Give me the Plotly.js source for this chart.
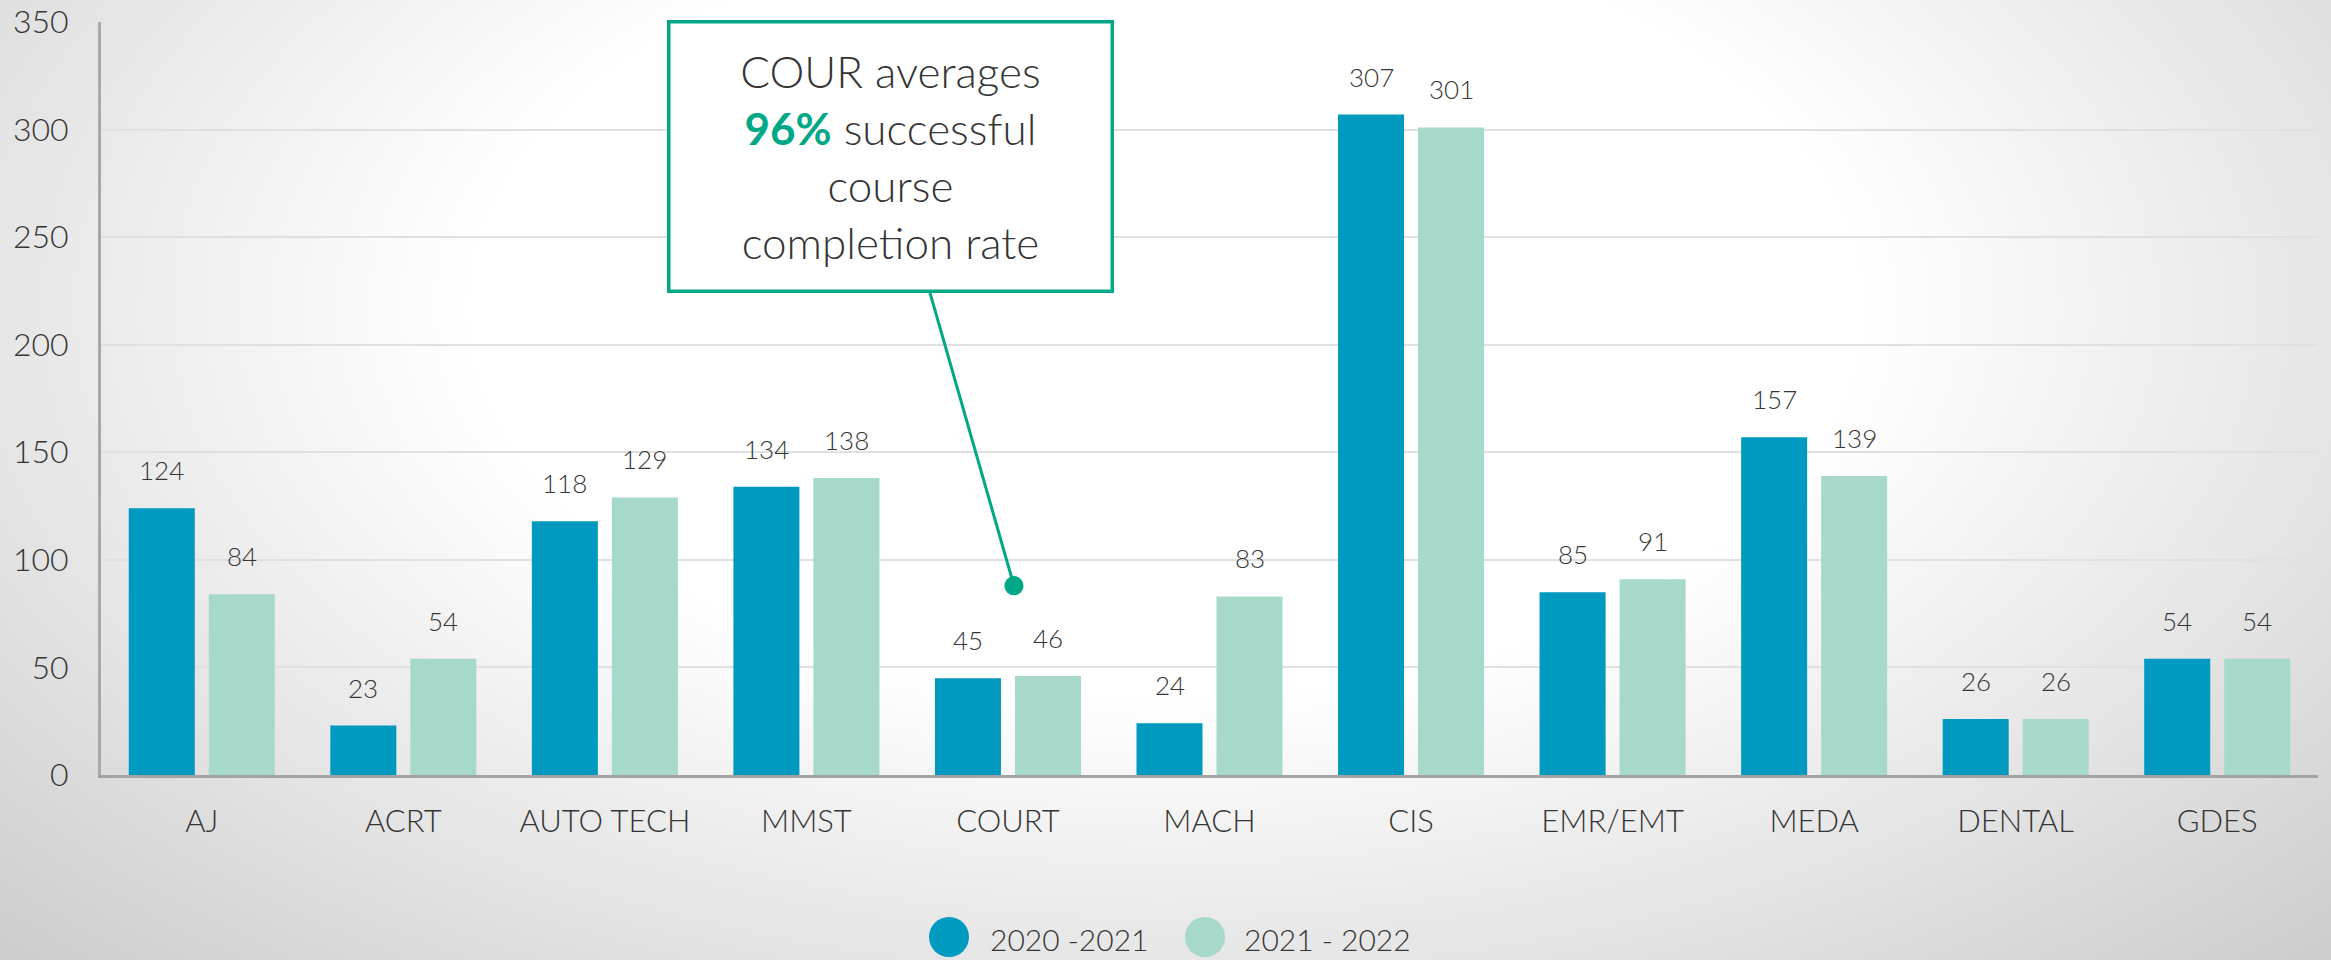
<!DOCTYPE html>
<html>
<head>
<meta charset="utf-8">
<script src="https://cdn.plot.ly/plotly-3.0.1.min.js"></script>
<style>
  html, body { margin: 0; padding: 0; }
  #chart {
    width: 2331px; height: 960px;
    background: radial-gradient(ellipse farthest-corner at 50% 32%, #ffffff 0%, #ffffff 42%, #cccccc 100%);
  }
</style>
</head>
<body>
<div id="chart"></div>
<script>
const categories = ['AJ', 'ACRT', 'AUTO TECH', 'MMST', 'COURT', 'MACH', 'CIS', 'EMR/EMT', 'MEDA', 'DENTAL', 'GDES'];
const series2020 = [124, 23, 118, 134, 45, 24, 307, 85, 157, 26, 54];
const series2021 = [84, 54, 129, 138, 46, 83, 301, 91, 139, 26, 54];
const seriesNames = ['2020 -2021', '2021 - 2022'];
const yTicks = [0, 50, 100, 150, 200, 250, 300, 350];
const calloutCategory = 'COURT';
const calloutValue = 88;

const FONT = 'Lato, "Open Sans", sans-serif';
const TXT = '#353535';
const BLUE = '#0099BF';
const TEAL = '#A6D8CC';
const GREEN = '#00A887';

const allSeries = [series2020, series2021];
const seriesColors = [BLUE, TEAL];

const traces = allSeries.map((vals, i) => ({
  type: 'bar', name: seriesNames[i], x: categories, y: vals,
  marker: { color: seriesColors[i] },
  showlegend: false, hoverinfo: 'skip'
}));

const plotL = 101, plotR = 2318, plotT = 22, plotB = 775;
const pw = plotR - plotL, ph = plotB - plotT;
const px = v => (v - plotL) / pw;
const py = v => (plotB - v) / ph;

const shapes = [];
const annotations = [];

// value labels above bars (offset to each bar of the group)
const groupOffset = [-40, 40];
allSeries.forEach((vals, i) => {
  vals.forEach((v, j) => {
    annotations.push({
      x: categories[j], y: v, xref: 'x', yref: 'y',
      xshift: groupOffset[i], yshift: 38,
      xanchor: 'center', yanchor: 'middle', showarrow: false,
      text: String(v),
      font: { family: FONT, size: 26, color: TXT, weight: 300 }
    });
  });
});

// custom legend (large circles), placed below the plot
const legendItems = [{cx: 949, tx: 988}, {cx: 1205, tx: 1242}];
const legendCy = 937, legendR = 20;
legendItems.forEach((it, i) => {
  shapes.push({
    type: 'circle', xref: 'paper', yref: 'paper',
    x0: px(it.cx - legendR), x1: px(it.cx + legendR),
    y0: py(legendCy + legendR), y1: py(legendCy - legendR),
    fillcolor: seriesColors[i], line: { width: 0 }
  });
  annotations.push({
    xref: 'paper', yref: 'paper', x: px(it.tx), y: py(legendCy + 2),
    xanchor: 'left', yanchor: 'middle', showarrow: false,
    text: seriesNames[i],
    font: { family: FONT, size: 30, color: TXT, weight: 300 }
  });
});

annotations.push({
  x: calloutCategory, y: calloutValue, xref: 'x', yref: 'y', xshift: 6,
  ax: -123, ay: -429, axref: 'pixel', ayref: 'pixel',
  showarrow: true, arrowhead: 6, arrowsize: 1.6, arrowwidth: 3, arrowcolor: GREEN,
  standoff: 0, startstandoff: 0,
  text: 'COUR averages<br><span style="color:' + GREEN + '"><b>96%</b></span> successful<br>course<br>completion rate',
  font: { family: FONT, size: 44, color: TXT, weight: 300 },
  align: 'center', valign: 'middle',
  width: 436, height: 262, borderpad: 2,
  bgcolor: '#ffffff', bordercolor: GREEN, borderwidth: 3.5
});

const layout = {
  width: 2331, height: 960,
  paper_bgcolor: 'rgba(0,0,0,0)', plot_bgcolor: 'rgba(0,0,0,0)',
  margin: { l: plotL, r: 2331 - plotR, t: plotT, b: 960 - plotB, pad: 0 },
  barmode: 'group', bargap: 0.206, bargroupgap: 0.175,
  showlegend: false,
  font: { family: FONT, color: TXT },
  xaxis: {
    type: 'category', showgrid: false, zeroline: false,
    showline: true, linecolor: '#a3a3a3', linewidth: 3,
    ticks: '', ticklabelstandoff: 17,
    tickfont: { family: FONT, size: 31, color: TXT, weight: 300 }
  },
  yaxis: {
    range: [0, 350], tickvals: yTicks, ticktext: yTicks.map(String),
    showgrid: true, gridcolor: '#e0e0e0', gridwidth: 2,
    zeroline: false, showline: true, linecolor: '#a8a8a8', linewidth: 3,
    ticks: '', ticklabelstandoff: 23,
    tickfont: { family: FONT, size: 32, color: TXT, weight: 300 }
  },
  shapes: shapes,
  annotations: annotations
};

Plotly.newPlot('chart', traces, layout, { displayModeBar: false, staticPlot: true });
</script>
</body>
</html>
